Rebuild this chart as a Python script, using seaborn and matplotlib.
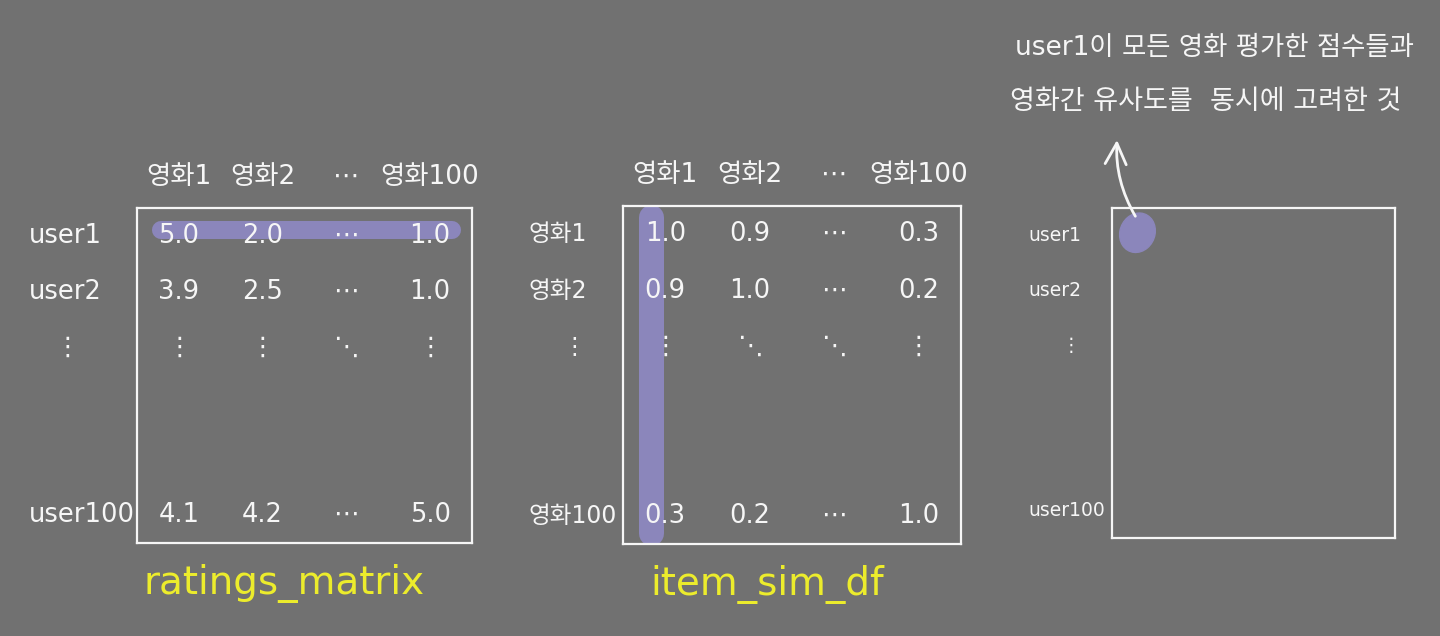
import numpy as np
import matplotlib
matplotlib.use('Agg')
import matplotlib.pyplot as plt
from matplotlib.colors import ListedColormap
from matplotlib.patches import Ellipse
from matplotlib.transforms import ScaledTranslation
import seaborn as sns

sns.set_theme(style='white')
plt.rcParams['font.family'] = ['DejaVu Sans', 'Noto Sans CJK KR']

BG = '#717171'
PURPLE = '#8b86bb'
YELLOW = '#ecec2c'
INK = '#f6f6f6'

# 행/열 이름
movies = ['영화1', '영화2', '⋯', '영화100']
users = ['user1', 'user2', '⋮', '', '', 'user100']
movie_rows = ['영화1', '영화2', '⋮', '', '', '영화100']

# ratings_matrix 에 보이는 값 (영화1, 영화2, 영화100)
rating_user1 = [5.0, 2.0, 1.0]
rating_user2 = [3.9, 2.5, 1.0]
rating_user100 = [4.1, 4.2, 5.0]

# item_sim_df 에 보이는 값
sim_movie1 = [1.0, 0.9, 0.3]
sim_movie2 = [0.9, 1.0, 0.2]
sim_movie100 = [0.3, 0.2, 1.0]

caption_ratings = 'ratings_matrix'
caption_sim = 'item_sim_df'
note_lines = ['user1이 모든 영화 평가한 점수들과', '영화간 유사도를  동시에 고려한 것']


def cell_row(vals):
    return [f'{vals[0]:.1f}', f'{vals[1]:.1f}', '⋯', f'{vals[2]:.1f}']


blank = [''] * 4
ratings_annot = np.array([cell_row(rating_user1), cell_row(rating_user2),
                          ['⋮', '⋮', '⋱', '⋮'], blank, blank,
                          cell_row(rating_user100)])
sim_annot = np.array([cell_row(sim_movie1), cell_row(sim_movie2),
                      ['⋮', '⋱', '⋱', '⋮'], blank, blank,
                      cell_row(sim_movie100)])
empty_annot = np.array([blank] * 6)

W, H = 1440, 636
fig = plt.figure(figsize=(W / 100, H / 100), dpi=100)
fig.patch.set_facecolor(BG)


def px_axes(x0, y0, x1, y1):
    return fig.add_axes([x0 / W, 1 - y1 / H, (x1 - x0) / W, (y1 - y0) / H])


def draw_matrix(ax, annot, rows, cols, lab_size, cell_size, pad, dots_shift):
    sns.heatmap(np.zeros(annot.shape), annot=annot, fmt='', cbar=False,
                cmap=ListedColormap([BG]), ax=ax,
                annot_kws={'color': INK, 'fontsize': cell_size},
                xticklabels=cols if cols else False, yticklabels=rows)
    ax.set_facecolor(BG)
    for s in ax.spines.values():
        s.set_visible(True)
        s.set_color(INK)
        s.set_linewidth(1.6)
    ax.set_yticklabels(rows, rotation=0, color=INK, fontsize=lab_size, ha='left')
    ax.tick_params(axis='y', length=0, pad=pad)
    # 세로 점은 라벨 가운데쯤으로
    for lbl in ax.get_yticklabels():
        if lbl.get_text() == '⋮':
            lbl.set_transform(lbl.get_transform() +
                              ScaledTranslation(dots_shift / 100, 0, fig.dpi_scale_trans))
    if cols:
        ax.xaxis.tick_top()
        ax.set_xticklabels(cols, rotation=0, color=INK, fontsize=19)
        ax.tick_params(axis='x', length=0, pad=13)


ax1 = px_axes(137, 208, 472, 543)
draw_matrix(ax1, ratings_annot, users, movies, 18.5, 18.5, 78, 26)
# user1 행 강조
ax1.plot([0.29, 3.76], [0.4, 0.4], color=PURPLE, lw=13,
         solid_capstyle='round', zorder=2)
ax1.text(0.02, -0.12, caption_ratings, transform=ax1.transAxes,
         color=YELLOW, fontsize=28, va='center', ha='left')

ax2 = px_axes(623, 206, 961, 544)
draw_matrix(ax2, sim_annot, movie_rows, movies, 17, 18.5, 68, 34)
# 영화1 열 강조
ax2.plot([0.33, 0.33], [0.2, 5.8], color=PURPLE, lw=18,
         solid_capstyle='round', zorder=2)
ax2.text(0.08, -0.12, caption_sim, transform=ax2.transAxes,
         color=YELLOW, fontsize=28, va='center', ha='left')

ax3 = px_axes(1112, 208, 1395, 538)
draw_matrix(ax3, empty_annot, users, None, 13.5, 15, 60, 33)
ax3.add_patch(Ellipse((0.36, 0.45), 0.5, 0.72, angle=8, color=PURPLE, zorder=2))
ax3.annotate('', xy=(1117, H - 140), xycoords='figure pixels',
             xytext=(0.33, 0.15), textcoords='data',
             arrowprops=dict(arrowstyle='->', color=INK, lw=2,
                             mutation_scale=38, shrinkA=0, shrinkB=0,
                             connectionstyle='arc3,rad=-0.15'))

fig.text(1015 / W, 1 - 48 / H, note_lines[0], color=INK, fontsize=19,
         va='center', ha='left')
fig.text(1010 / W, 1 - 102 / H, note_lines[1], color=INK, fontsize=19.5,
         va='center', ha='left')

fig.savefig('out.png', dpi=100, facecolor=BG)
